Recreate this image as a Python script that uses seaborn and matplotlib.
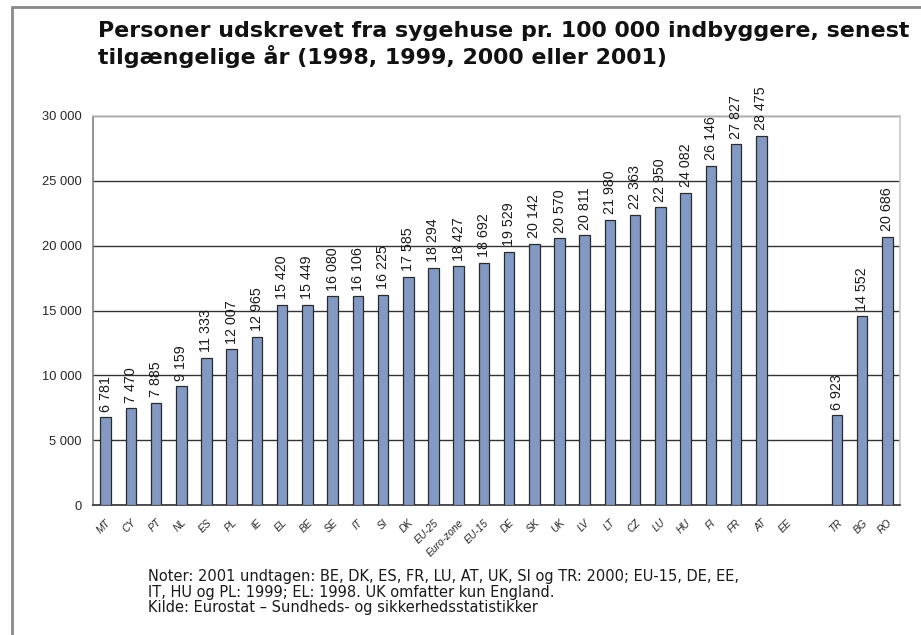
import matplotlib
matplotlib.use("Agg")
import matplotlib.pyplot as plt
from matplotlib.lines import Line2D
from matplotlib.ticker import FuncFormatter
import numpy as np
import pandas as pd
import seaborn as sns

# Country codes in display order; " " is an intentional empty slot before the candidate countries
lande = ["MT", "CY", "PT", "NL", "ES", "PL", "IE", "EL", "BE", "SE", "IT", "SI",
         "DK", "EU-25", "Euro-zone", "EU-15", "DE", "SK", "UK", "LV", "LT", "CZ",
         "LU", "HU", "FI", "FR", "AT", "EE", " ", "TR", "BG", "RO"]
udskrevne = [6781, 7470, 7885, 9159, 11333, 12007, 12965, 15420, 15449, 16080,
             16106, 16225, 17585, 18294, 18427, 18692, 19529, 20142, 20570, 20811,
             21980, 22363, 22950, 24082, 26146, 27827, 28475, np.nan, np.nan,
             6923, 14552, 20686]
y_ticks = [0, 5000, 10000, 15000, 20000, 25000, 30000]

titel = ("Personer udskrevet fra sygehuse pr. 100 000 indbyggere, senest\n"
         "tilgængelige år (1998, 1999, 2000 eller 2001)")
noter = ("Noter: 2001 undtagen: BE, DK, ES, FR, LU, AT, UK, SI og TR: 2000; EU-15, DE, EE,\n"
         "IT, HU og PL: 1999; EL: 1998. UK omfatter kun England.\n"
         "Kilde: Eurostat – Sundheds- og sikkerhedsstatistikker")

df = pd.DataFrame({"land": lande, "værdi": udskrevne})

sns.set_style("white")
plt.rcParams["font.family"] = ["DejaVu Sans"]

W, H = 921, 635
fig = plt.figure(figsize=(W / 100, H / 100), dpi=100)
ax = fig.add_axes([93 / W, 1 - 505 / H, (900 - 93) / W, (505 - 116) / H])

bar_col = "#8299C4"
sns.barplot(data=df, x="land", y="værdi", order=lande, ax=ax, color=bar_col,
            saturation=1, width=0.42, edgecolor="#2b2b2b", linewidth=0.9,
            errorbar=None, zorder=3)

ax.set_xlim(-0.5, len(lande) - 0.5)
ax.set_ylim(0, 30000)
ax.set_xlabel("")
ax.set_ylabel("")

# horizontal grid
ax.set_yticks(y_ticks)
ax.yaxis.set_major_formatter(FuncFormatter(lambda v, p: f"{int(v):,}".replace(",", " ")))
ax.grid(axis="y", color="#333333", linewidth=1.0, zorder=1)
ax.set_axisbelow(True)

for lab in ax.get_yticklabels():
    lab.set_family(["Liberation Sans"])
    lab.set_fontsize(9.3)
ax.tick_params(axis="y", direction="out", length=5, width=1, color="#808080", pad=3)

# category labels at centres, tick marks at the boundaries
ax.set_xticks(range(len(lande)))
ax.set_xticklabels(lande, rotation=45, ha="right", rotation_mode="anchor",
                   fontstyle="italic", family=["Liberation Sans"], fontsize=7.4)
ax.tick_params(axis="x", which="major", length=0, pad=9)
ax.set_xticks(np.arange(-0.5, len(lande) + 0.5, 1), minor=True)
ax.tick_params(axis="x", which="minor", direction="out", length=5, width=1, color="#333333")

for side in ["top", "right"]:
    ax.spines[side].set_visible(True)
    ax.spines[side].set_color("#c8c8c8")
    ax.spines[side].set_linewidth(1.2)
ax.spines["left"].set_color("#808080")
ax.spines["left"].set_linewidth(1.2)
ax.spines["bottom"].set_color("#333333")
ax.spines["bottom"].set_linewidth(1.2)

# value labels above each bar
for i, v in enumerate(udskrevne):
    if np.isnan(v):
        continue
    txt = f"{int(v):,}".replace(",", " ")
    ax.annotate(txt, (i, v), xytext=(0, 4), textcoords="offset points",
                rotation=90, ha="center", va="bottom", fontsize=10.3,
                family=["Liberation Sans"], color="#1a1a1a", clip_on=False,
                annotation_clip=False)

fig.text(98 / W, 1 - 21 / H, titel, ha="left", va="top", fontsize=15.9,
         fontweight="bold", color="#111111", linespacing=1.2)
fig.text(148 / W, 1 - 569 / H, noter, ha="left", va="top", fontsize=10.5,
         color="#1a1a1a", linespacing=1.05)

# page frame
fr = "#8a8a8a"
fig.add_artist(Line2D([12 / W, 1], [1 - 7 / H, 1 - 7 / H], color=fr, lw=2,
                      transform=fig.transFigure))
fig.add_artist(Line2D([12 / W, 12 / W], [0, 1 - 7 / H], color=fr, lw=2,
                      transform=fig.transFigure))

fig.savefig("out.png", dpi=100, facecolor="white")
